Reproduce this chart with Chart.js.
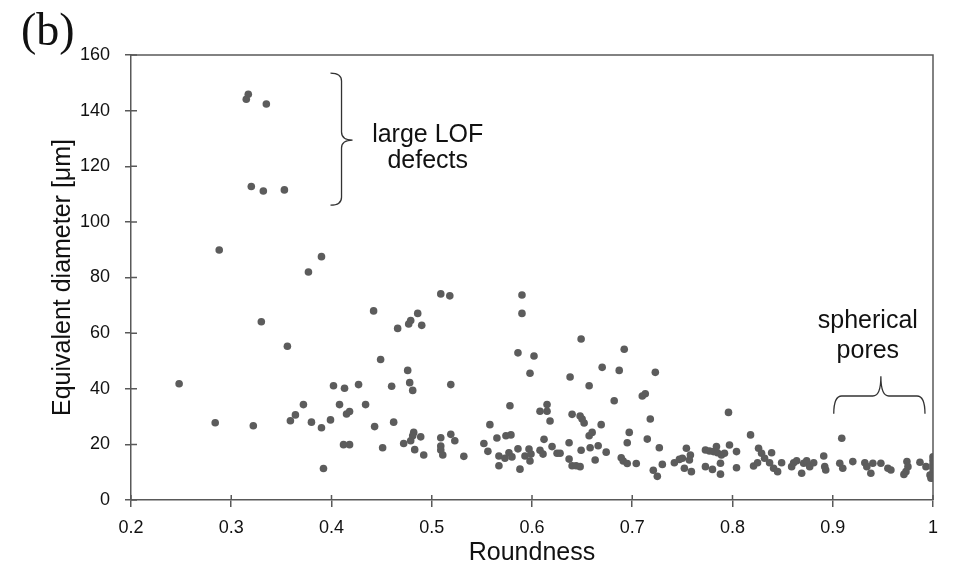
<!DOCTYPE html>
<html>
<head>
<meta charset="utf-8">
<script src="https://cdn.jsdelivr.net/npm/chart.js@4.4.0/dist/chart.umd.min.js"></script>
<style>
  html, body { margin: 0; padding: 0; background: #fff; }
  #chart { display: block; }
</style>
</head>
<body>
<canvas id="chart" width="954" height="566"></canvas>
<script>
// roundness (x) vs equivalent diameter in µm (y)
const roundness = [
    0.317, 0.315, 0.335, 0.320, 0.332, 0.353,
    0.288, 0.390, 0.377, 0.330, 0.442, 0.466, 0.356, 0.449, 0.248, 0.402, 0.413, 0.427, 0.460,
    0.372, 0.408, 0.434, 0.364, 0.415, 0.418, 0.284, 0.359, 0.380, 0.399, 0.322, 0.390, 0.443,
    0.462, 0.412, 0.418, 0.451, 0.392,
    0.509, 0.518, 0.590, 0.590, 0.486, 0.479, 0.477, 0.490, 0.649, 0.692, 0.586, 0.602, 0.670,
    0.687, 0.476, 0.598, 0.723, 0.638, 0.478, 0.481, 0.519, 0.657, 0.713, 0.710, 0.682, 0.578,
    0.608, 0.615, 0.615, 0.618, 0.640, 0.648, 0.650, 0.652, 0.718, 0.558, 0.669, 0.482, 0.481,
    0.479, 0.489, 0.472, 0.483, 0.492, 0.509, 0.509, 0.509, 0.511, 0.519, 0.523, 0.532, 0.552,
    0.556, 0.565, 0.567, 0.567, 0.574, 0.579, 0.573, 0.577, 0.580, 0.586, 0.588, 0.593, 0.597,
    0.599, 0.598, 0.608, 0.611, 0.612, 0.620, 0.625, 0.628, 0.637, 0.637, 0.640, 0.644, 0.648,
    0.649, 0.657, 0.660, 0.658, 0.666, 0.663, 0.674, 0.689, 0.691, 0.695, 0.704, 0.695, 0.697,
    0.715, 0.721, 0.725, 0.727, 0.730,
    0.742, 0.747, 0.750, 0.754, 0.758, 0.757, 0.752, 0.759, 0.773, 0.777, 0.781, 0.784, 0.785,
    0.789, 0.792, 0.797, 0.796, 0.788, 0.773, 0.780, 0.788, 0.804, 0.804, 0.818, 0.821, 0.826,
    0.829, 0.825, 0.832, 0.837, 0.839, 0.841, 0.845, 0.849, 0.859, 0.861, 0.864, 0.869, 0.871,
    0.874, 0.877, 0.881, 0.891, 0.892, 0.893, 0.909, 0.907, 0.910, 0.920, 0.932, 0.934, 0.938,
    0.940, 0.948, 0.955, 0.958, 0.974, 0.975, 0.973, 0.971, 0.987, 0.993, 0.997, 0.998,
    1, 1, 1, 1, 1, 1
];
const diameter = [
    145.9, 144.1, 142.4, 112.7, 111.1, 111.5,
    89.9, 87.5, 82.0, 64.1, 68.0, 61.7, 55.3, 50.5, 41.8, 41.1, 40.2, 41.5, 40.9,
    34.3, 34.3, 34.3, 30.6, 30.9, 31.8, 27.8, 28.5, 28.0, 28.8, 26.7, 26.0, 26.4,
    28.0, 19.9, 19.9, 18.8, 11.3,
    74.1, 73.4, 73.7, 67.1, 67.1, 64.5, 63.3, 62.8, 57.9, 54.2, 52.9, 51.8, 47.7,
    46.6, 46.6, 45.6, 45.9, 44.2, 42.2, 39.4, 41.5, 41.1, 38.2, 37.4, 35.7, 33.9,
    31.9, 34.3, 31.9, 28.4, 30.8, 30.2, 29.1, 27.7, 29.1, 27.1, 27.1, 24.3, 23.1,
    21.3, 22.7, 20.3, 18.1, 16.2, 22.4, 19.4, 18.0, 16.2, 23.6, 21.3, 15.7, 20.3,
    17.5, 22.3, 15.8, 12.3, 23.1, 23.4, 15.0, 17.0, 15.5, 18.4, 11.1, 15.8, 18.3,
    16.5, 14.0, 17.9, 16.5, 21.8, 19.2, 16.8, 16.8, 20.6, 14.7, 12.3, 12.3, 12.0,
    17.9, 23.1, 24.3, 18.8, 19.5, 14.4, 17.2, 15.2, 14.0, 13.1, 13.1, 20.6, 24.3,
    21.9, 10.7, 8.5, 18.8, 12.8,
    13.4, 14.6, 15.0, 18.6, 16.2, 14.4, 11.4, 10.2, 18.0, 17.6, 17.4, 19.2, 17.0,
    16.2, 16.8, 19.8, 31.5, 13.2, 12.0, 11.0, 9.3, 17.4, 11.6, 23.4, 12.2, 18.6,
    16.8, 13.4, 15.0, 13.4, 17.0, 11.4, 10.2, 13.4, 12.0, 13.4, 14.1, 9.6, 13.2,
    14.1, 12.0, 13.4, 15.8, 12.0, 10.8, 22.2, 13.2, 11.4, 13.8, 13.4, 12.0, 9.6,
    13.2, 13.2, 11.4, 10.8, 13.8, 12.0, 10.2, 9.2, 13.6, 12.0, 9.0, 7.8,
    15.5, 14.2, 12.8, 11.4, 10.0, 8.6
];

const xTicks = [0.2, 0.3, 0.4, 0.5, 0.6, 0.7, 0.8, 0.9, 1];
const yTicks = [0, 20, 40, 60, 80, 100, 120, 140, 160];

const AXIS = "#595959";
const INK = "#111111";
const FONT = "'Liberation Sans', Arial, sans-serif";

// annotation braces: anchors in data units
const lofBrace = { x0: 0.399, xv: 0.410, xTip: 0.421, yTop: 153.5, yMid: 129.4, yBot: 106 };
const poreBrace = { xL: 0.901, xM: 0.948, xR: 0.992, yEnd: 31, yLine: 37.4, yTip: 44.5 };

const extras = {
    id: "extras",
    afterDatasetsDraw(chart) {
        const { ctx, chartArea: a, scales: { x, y } } = chart;
        ctx.save();

        // frame top + right
        ctx.strokeStyle = AXIS;
        ctx.lineWidth = 1.5;
        ctx.beginPath();
        ctx.moveTo(a.left, a.top);
        ctx.lineTo(a.right, a.top);
        ctx.lineTo(a.right, a.bottom);
        ctx.stroke();

        // inward half of the tick marks
        ctx.beginPath();
        yTicks.forEach(v => {
            const py = y.getPixelForValue(v);
            ctx.moveTo(a.left, py);
            ctx.lineTo(a.left + 6, py);
        });
        xTicks.forEach(v => {
            const px = x.getPixelForValue(v);
            ctx.moveTo(px, a.bottom);
            ctx.lineTo(px, a.bottom - 5);
        });
        ctx.stroke();

        // braces
        ctx.strokeStyle = "#333";
        ctx.lineWidth = 1.3;
        let b = lofBrace;
        let x0 = x.getPixelForValue(b.x0), xv = x.getPixelForValue(b.xv), xt = x.getPixelForValue(b.xTip);
        let yt = y.getPixelForValue(b.yTop), ym = y.getPixelForValue(b.yMid), yb = y.getPixelForValue(b.yBot);
        let r = 8;
        ctx.beginPath();
        ctx.moveTo(x0, yt);
        ctx.quadraticCurveTo(xv, yt, xv, yt + r);
        ctx.lineTo(xv, ym - r);
        ctx.quadraticCurveTo(xv, ym, xt, ym);
        ctx.quadraticCurveTo(xv, ym, xv, ym + r);
        ctx.lineTo(xv, yb - r);
        ctx.quadraticCurveTo(xv, yb, x0, yb);
        ctx.stroke();

        b = poreBrace;
        const xl = x.getPixelForValue(b.xL), xm = x.getPixelForValue(b.xM), xr = x.getPixelForValue(b.xR);
        const ye = y.getPixelForValue(b.yEnd), yl = y.getPixelForValue(b.yLine), ytp = y.getPixelForValue(b.yTip);
        ctx.beginPath();
        ctx.moveTo(xl, ye);
        ctx.quadraticCurveTo(xl, yl, xl + r, yl);
        ctx.lineTo(xm - r, yl);
        ctx.quadraticCurveTo(xm, yl, xm, ytp);
        ctx.quadraticCurveTo(xm, yl, xm + r, yl);
        ctx.lineTo(xr - r, yl);
        ctx.quadraticCurveTo(xr, yl, xr, ye);
        ctx.stroke();

        // annotation text
        ctx.fillStyle = INK;
        ctx.font = "25px " + FONT;
        ctx.textAlign = "center";
        ctx.textBaseline = "alphabetic";
        const lx = x.getPixelForValue(0.496);
        ctx.fillText("large LOF", lx, y.getPixelForValue(128.7));
        ctx.fillText("defects", lx, y.getPixelForValue(119.4));
        const sx = x.getPixelForValue(0.935);
        ctx.fillText("spherical", sx, y.getPixelForValue(61.8));
        ctx.fillText("pores", sx, y.getPixelForValue(51.1));

        // panel label
        ctx.font = "46px 'Liberation Serif', 'Times New Roman', serif";
        ctx.textAlign = "left";
        ctx.fillText("(b)", 21, 45);
        ctx.restore();
    }
};

new Chart(document.getElementById("chart"), {
    type: "scatter",
    data: {
        datasets: [{
            data: roundness.map((r, i) => ({ x: r, y: diameter[i] })),
            backgroundColor: "#5c5c5c",
            borderWidth: 0,
            pointRadius: 3.8,
            pointHoverRadius: 3.8
        }]
    },
    options: {
        responsive: false,
        animation: false,
        layout: { padding: { left: 0, top: 55, right: 21, bottom: 0 } },
        plugins: { legend: { display: false }, tooltip: { enabled: false } },
        scales: {
            x: {
                type: "linear",
                min: 0.2,
                max: 1,
                afterBuildTicks: s => { s.ticks = xTicks.map(v => ({ value: v })); },
                afterFit: s => { s.height = 66; },
                ticks: {
                    color: INK,
                    font: { family: FONT, size: 18 },
                    padding: 10,
                    maxRotation: 0,
                    callback: v => String(Number(v.toFixed(1)))
                },
                grid: { drawOnChartArea: false, drawTicks: true, tickLength: 7, color: AXIS, lineWidth: 1.5 },
                border: { color: AXIS, width: 1.5 },
                title: {
                    display: true,
                    text: "Roundness",
                    color: INK,
                    font: { family: FONT, size: 25, lineHeight: 1.0 },
                    padding: { top: 0, bottom: 0 }
                }
            },
            y: {
                min: 0,
                max: 160,
                afterBuildTicks: s => { s.ticks = yTicks.map(v => ({ value: v })); },
                afterFit: s => { s.width = 131; },
                ticks: {
                    color: INK,
                    font: { family: FONT, size: 18 },
                    padding: 15
                },
                grid: { drawOnChartArea: false, drawTicks: true, tickLength: 6, color: AXIS, lineWidth: 1.5 },
                border: { color: AXIS, width: 1.5 },
                title: {
                    display: true,
                    text: "Equivalent diameter [μm]",
                    color: INK,
                    font: { family: FONT, size: 25 },
                    padding: { top: 48, bottom: 0 }
                }
            }
        }
    },
    plugins: [extras]
});
</script>
</body>
</html>
